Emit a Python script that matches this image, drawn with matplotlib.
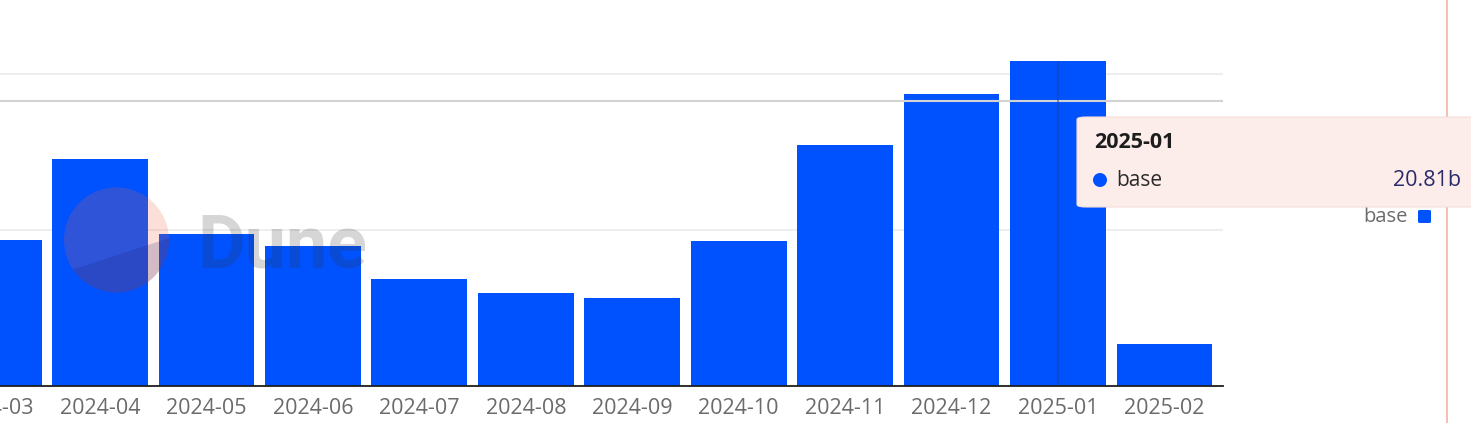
import matplotlib
matplotlib.use("Agg")
import matplotlib.pyplot as plt
from matplotlib.patches import FancyBboxPatch, Ellipse, Polygon
import numpy as np

months = ["2024-03", "2024-04", "2024-05", "2024-06", "2024-07", "2024-08",
          "2024-09", "2024-10", "2024-11", "2024-12", "2025-01", "2025-02"]
base_values = [9.36, 14.55, 9.74, 8.97, 6.86, 5.96, 5.64, 9.29, 15.45, 18.72, 20.81, 2.69]
series_name = "base"
tooltip_month = "2025-01"
tooltip_label = "20.81b"
cursor_y = 18.27

W, H = 1471, 423
BLUE = "#0052FF"
plt.rcParams['font.family'] = ['Open Sans', 'DejaVu Sans']

fig = plt.figure(figsize=(W / 100, H / 100), dpi=100)
fig.patch.set_facecolor("white")

def fx(x):
    return x / W

def fy(y):
    return 1 - y / H

ax = fig.add_axes([0, fy(386), fx(1223), 386 / H])
x = np.arange(len(months))
ax.bar(x, base_values, width=0.9, color=BLUE, zorder=3)
ax.set_xticks([])
ax.set_yticks([10, 20])
ax.set_xlim(0.06, 11.55)
ax.set_ylim(0, 386 / 15.6)
ax.yaxis.grid(True, color="#ebebeb", linewidth=1.2, zorder=0)
ax.tick_params(axis="y", left=False, labelleft=False)
for i, m in enumerate(months):
    ax.annotate(m, (x[i], 0), xycoords=("data", "axes fraction"),
                xytext=(0, -22), textcoords="offset pixels",
                ha="center", va="center", fontsize=15.5, color="#6b6b6b",
                annotation_clip=False)
for s in ["top", "right", "left"]:
    ax.spines[s].set_visible(False)
ax.spines["bottom"].set_color("#1f1f1f")
ax.spines["bottom"].set_linewidth(1.3)
ax.spines["bottom"].set_zorder(5)
ax.set_facecolor("none")

# crosshair
ax.axhline(cursor_y, color="#d2d2d2", linewidth=1.5, zorder=4)
idx = months.index(tooltip_month)
ax.vlines(idx, 0, base_values[idx], color="#1c3f9e", alpha=0.6, linewidth=1.2, zorder=4)

# right salmon line
fig.add_artist(plt.Line2D([fx(1447), fx(1447)], [0, 1], color="#f2b4a6", linewidth=1.2,
                          transform=fig.transFigure))

# watermark logo
cx, cy, r = 116.5, 240, 52.5
fig.add_artist(Ellipse((fx(cx), fy(cy)), 2 * r / W, 2 * r / H, transform=fig.transFigure,
                       facecolor="#f4603e", alpha=0.2, edgecolor="none", zorder=6))
ang = np.radians(np.linspace(214, 362, 60))
pts = [(fx(cx + r * np.cos(a)), fy(cy - r * np.sin(a))) for a in ang]
fig.add_artist(Polygon(pts, closed=True, transform=fig.transFigure,
                       facecolor="#1e1870", alpha=0.18, edgecolor="none", zorder=6))
fig.text(fx(197), fy(267), "Dune", fontsize=53, fontweight="bold", color="#333333",
         alpha=0.2, ha="left", va="baseline", zorder=6, family=["Roboto", "DejaVu Sans"])

# tooltip
fig.add_artist(FancyBboxPatch((fx(1077), fy(207)), fx(500), (207 - 117) / H,
                              boxstyle="round,pad=0,rounding_size=0.006",
                              transform=fig.transFigure, facecolor="#fdedea",
                              edgecolor="#f6dcd6", linewidth=0.8, zorder=8))
fig.text(fx(1094), fy(143), tooltip_month, fontsize=15.5, fontweight="bold", color="#1d1d1d",
         ha="left", va="center", zorder=9)
fig.add_artist(Ellipse((fx(1100), fy(180)), 14 / W, 14 / H, transform=fig.transFigure,
                       facecolor=BLUE, edgecolor="none", zorder=9))
fig.text(fx(1116), fy(180), series_name, fontsize=15, color="#2a2a2a",
         ha="left", va="center", zorder=9)
fig.text(fx(1461), fy(180), tooltip_label, fontsize=15.5, color="#2b2a6b",
         ha="right", va="center", zorder=9)

# legend
fig.text(fx(1408), fy(217), series_name, fontsize=14.5, color="#6b6b6b",
         ha="right", va="center", zorder=7)
fig.add_artist(FancyBboxPatch((fx(1418), fy(223)), 13 / W, 13 / H,
                              boxstyle="round,pad=0,rounding_size=0.002",
                              transform=fig.transFigure, facecolor=BLUE,
                              edgecolor="none", zorder=7))

fig.savefig("out.png", dpi=100)
